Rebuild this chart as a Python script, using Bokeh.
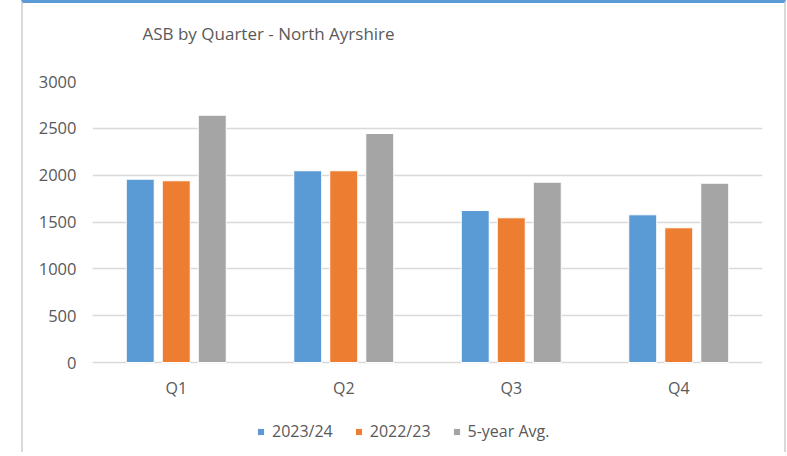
from bokeh.plotting import figure
from bokeh.models import FactorRange, Range1d, FixedTicker, Legend, Title
from bokeh.transform import dodge
from bokeh.core.properties import value
from bokeh.embed import file_html
from bokeh.resources import INLINE

quarters = ["Q1", "Q2", "Q3", "Q4"]
fy_2023_24 = [1957, 2047, 1623, 1577]
fy_2022_23 = [1940, 2047, 1545, 1438]
five_year_avg = [2640, 2445, 1925, 1914]
y_ticks = [0, 500, 1000, 1500, 2000, 2500, 3000]
y_max = 3000

data = dict(q=quarters, a=fy_2023_24, b=fy_2022_23, c=five_year_avg)

FONT = "Open Sans"
TXT = "#595959"
GRID = "#D9D9D9"

# value area is 281px tall; the frame continues 90px below zero to hold
# the category labels and the legend (legends are clipped to the frame)
VALUE_H = 281
FRAME_H = 371
y_min = -(FRAME_H - VALUE_H) * y_max / VALUE_H

p = figure(
    x_range=FactorRange(*quarters, range_padding=0),
    y_range=Range1d(y_min, y_max),
    frame_width=670, frame_height=FRAME_H,
    x_axis_location=None,
    output_backend="svg", toolbar_location=None,
    min_border_left=69, min_border_right=22,
    min_border_top=78, min_border_bottom=0,
    styles={"margin-left": "21px",
            "border-left": "2px solid #D9D9D9",
            "border-right": "2px solid #D9D9D9",
            "border-top": "3px solid #5B9BD5"},
)
p.outline_line_color = None

bw = 0.167
off = 0.215
r1 = p.vbar(x=dodge("q", -off, range=p.x_range), top="a", width=bw, source=data,
            fill_color="#5B9BD5", line_color="white", line_width=1)
r2 = p.vbar(x=dodge("q", 0, range=p.x_range), top="b", width=bw, source=data,
            fill_color="#ED7D31", line_color="white", line_width=1)
r3 = p.vbar(x=dodge("q", off, range=p.x_range), top="c", width=bw, source=data,
            fill_color="#A5A5A5", line_color="white", line_width=1)

# category labels under the zero line
p.text(x="q", y=0, text="q", source=data, text_font=value(FONT),
       text_font_size="16px", text_color=TXT, text_align="center",
       text_baseline="middle", y_offset=25)

# spacer between the frame and the title
p.add_layout(Title(text=" ", text_font=FONT, text_font_size="17px", standoff=12), "above")

p.title.text = "ASB by Quarter - North Ayrshire"
p.title.text_font = FONT
p.title.text_font_size = "17px"
p.title.text_font_style = "normal"
p.title.text_color = TXT
p.title.align = "left"
p.title.offset = 50
p.title.standoff = 0

p.yaxis.ticker = FixedTicker(ticks=y_ticks)
p.yaxis.axis_line_color = None
p.yaxis.major_tick_line_color = None
p.yaxis.minor_tick_line_color = None
p.yaxis.major_label_standoff = 10
p.yaxis.major_label_text_font = FONT
p.yaxis.major_label_text_font_size = "16.5px"
p.yaxis.major_label_text_color = TXT

p.xgrid.grid_line_color = None
p.ygrid.ticker = FixedTicker(ticks=y_ticks)
p.ygrid.grid_line_color = GRID
p.ygrid.grid_line_width = 1.5

legend = Legend(items=[("2023/24", [r1]), ("2022/23", [r2]), ("5-year Avg.", [r3])],
                orientation="horizontal", location=(164, 10),
                glyph_width=9, glyph_height=9, label_standoff=7, spacing=21,
                padding=0, margin=0, border_line_color=None,
                background_fill_alpha=0,
                label_text_font=FONT, label_text_font_size="16px",
                label_text_color=TXT)
p.add_layout(legend, "center")

open("out.html", "w").write(file_html(p, INLINE))
